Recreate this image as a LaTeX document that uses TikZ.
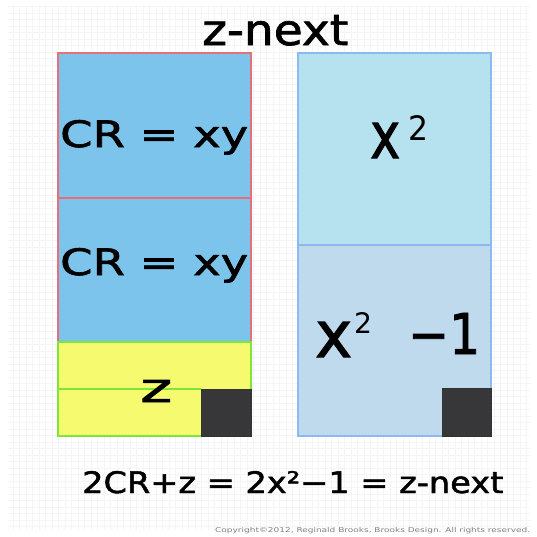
\documentclass[tikz,border=0pt]{standalone}
\usepackage{fontspec}
\setmainfont{DejaVu Sans}
\newfontfamily\handfont{DejaVu Sans}[FakeBold=1.6]
\definecolor{crblue}{RGB}{125,196,236}
\definecolor{crred}{RGB}{232,110,120}
\definecolor{xsq}{RGB}{182,226,240}
\definecolor{xsqm}{RGB}{192,218,237}
\definecolor{xblue}{RGB}{140,185,240}
\definecolor{zyellow}{RGB}{246,250,110}
\definecolor{zgreen}{RGB}{125,230,60}
\definecolor{darksq}{RGB}{55,55,57}
\newcommand{\fitbox}[3]{\resizebox{#1pt}{#2pt}{#3}}
\tikzset{
  lbl/.style={inner sep=0pt, anchor=base west, text=black, font=\handfont},
  crbox/.style={fill=crblue, draw=crred, line width=1.2pt},
  xbox/.style={fill=xsq, draw=xblue, line width=1.2pt},
  xmbox/.style={fill=xsqm, draw=xblue, line width=1.2pt},
  zbox/.style={fill=zyellow, draw=zgreen, line width=1.2pt},
  darkbox/.style={fill=darksq, draw=black!80, line width=0.8pt},
  gridline/.style={draw=gray!8, line width=0.3pt}
}
\begin{document}
\begin{tikzpicture}[x=1pt,y=-1pt]
\useasboundingbox (0,0) rectangle (537,536);
\fill[white] (0,0) rectangle (537,536);
\draw[gridline] (8,5) grid[step=6.5pt] (530,530);
% left column
\draw[crbox] (58,53) rectangle (251,198);
\draw[crbox] (58,198) rectangle (251,342);
\draw[zbox] (58,342) rectangle (251,436);
\draw[zgreen, line width=1.2pt] (58,389) -- (201,389);
\draw[darkbox] (201,389) rectangle (251,436);
% right column
\draw[xbox] (298,53) rectangle (491,245);
\draw[xmbox] (298,245) rectangle (491,436);
\draw[darkbox] (442,388) rectangle (491,436);
% texts
\node[lbl] (title) at (202,45) {\fitbox{146}{30}{z-next}};
\node[lbl] (cr1) at (60,147) {\fitbox{188}{27}{CR = xy}};
\node[lbl] (cr2) at (60,275) {\fitbox{188}{27}{CR = xy}};
\node[lbl] (z) at (140,402) {\fitbox{32}{22}{z}};
\node[lbl] (x1) at (370,158) {\fitbox{30}{35}{x}};
\node[lbl, font=\mdseries] (x1e) at (408,140) {\fitbox{20}{25}{2}};
\node[lbl] (x2) at (315,357) {\fitbox{37}{35}{x}};
\node[lbl, font=\mdseries] (x2e) at (354,333) {\fitbox{18}{21}{2}};
\node[lbl] (m1) at (408,354) {\fitbox{72}{41}{−1}};
\node[lbl] (formula) at (82,493) {\fitbox{421}{22}{2CR+z = 2x²−1 = z-next}};
\node[lbl, font=\mdseries, text=gray] (copy) at (215,532) {\fitbox{315}{5}{Copyright©2012, Reginald Brooks, Brooks Design. All rights reserved.}};
\end{tikzpicture}
\end{document}
